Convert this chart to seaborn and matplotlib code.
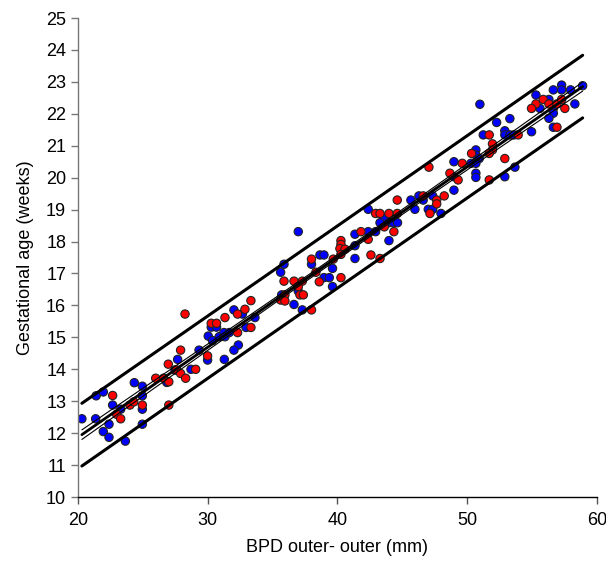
import numpy as np
import pandas as pd
import matplotlib
matplotlib.use("Agg")
import matplotlib.pyplot as plt
import seaborn as sns

# BPD outer-outer (mm) and gestational age (weeks)
blue_bpd = [20.3, 21.4, 21.95, 21.36, 22.67, 21.95, 22.39, 22.39, 23.29, 23.65,
            24.34, 24.96, 24.96, 24.96, 24.96, 26.84,
            32.02, 32.67, 33.64, 30.27, 30.68, 30.04, 30.37, 30.88, 31.25, 31.33,
            31.66, 32.95, 32.36, 32.02, 29.33, 29.99, 31.28, 27.68, 27.48, 28.71,
            36.98, 41.35, 41.35, 41.35, 38.65, 38.96, 38.0, 35.88, 35.62, 39.62,
            38.96, 39.37, 36.98, 39.62, 35.7, 36.65, 37.29,
            45.66, 46.28, 46.61, 47.34, 45.97, 47.0, 47.34, 47.98, 42.37, 43.61,
            43.97, 44.3, 44.63, 43.28, 42.37, 42.94, 43.97,
            50.98, 52.27, 53.29, 51.24, 52.9, 52.9, 53.29, 53.6, 50.67, 50.67,
            50.93, 48.98, 50.29, 50.67, 48.98, 50.67, 50.67, 53.68, 52.9, 48.98,
            58.9, 57.28, 57.28, 56.64, 57.97, 55.3, 56.3, 55.61, 56.64, 56.64,
            58.3, 56.3, 56.64, 54.96]
blue_ga = [12.45, 13.17, 13.29, 12.45, 12.88, 12.05, 11.87, 12.28, 12.75, 11.75,
           13.58, 13.47, 13.17, 12.75, 12.28, 13.59,
           15.86, 15.73, 15.62, 15.32, 15.32, 15.04, 14.9, 15.02, 15.15, 15.02,
           15.15, 15.31, 14.76, 14.6, 14.6, 14.29, 14.31, 14.31, 13.98, 14.0,
           18.31, 18.23, 17.87, 17.47, 17.58, 17.58, 17.29, 17.29, 17.04, 17.16,
           16.87, 16.87, 16.45, 16.59, 16.33, 16.03, 15.86,
           19.3, 19.43, 19.3, 19.43, 19.01, 19.01, 19.01, 18.88, 19.01, 18.73,
           18.59, 18.59, 18.59, 18.59, 18.31, 18.31, 18.03,
           22.3, 21.73, 21.85, 21.34, 21.47, 21.34, 21.34, 21.34, 20.87, 20.71,
           20.6, 20.5, 20.45, 20.45, 20.03, 20.14, 20.01, 20.33, 20.03, 19.61,
           22.88, 22.9, 22.75, 22.75, 22.75, 22.59, 22.45, 22.17, 22.17, 22.02,
           22.31, 21.86, 21.58, 21.44]

red_bpd = [22.67, 22.98, 23.29, 24.0, 24.3, 24.96, 25.99, 26.6, 27.0, 26.96,
           28.25, 33.33, 32.3, 32.87, 31.33, 30.27, 30.68, 32.3, 33.33, 27.91,
           29.99, 27.6, 29.07, 27.91, 28.3, 27.0,
           40.27, 40.27, 40.19, 40.58, 40.27, 39.68, 38.0, 38.34, 40.27, 38.6,
           35.88, 36.65, 37.29, 36.98, 37.11, 35.95, 37.37, 35.62, 35.95, 38.0,
           47.05, 44.61, 46.61, 47.65, 48.23, 47.65, 47.13, 42.94, 43.28, 43.97,
           44.61, 43.61, 42.37, 44.35, 41.81, 42.58, 43.28,
           51.7, 53.93, 51.95, 51.95, 51.7, 50.34, 52.9, 49.62, 48.67, 49.3, 51.7,
           55.3, 55.86, 56.3, 56.92, 57.28, 54.96, 57.53, 56.92]
red_ga = [13.18, 12.59, 12.45, 12.88, 12.98, 12.88, 13.72, 13.72, 12.88, 14.16,
          15.73, 16.15, 15.73, 15.88, 15.62, 15.44, 15.44, 15.15, 15.31, 14.6,
          14.42, 13.98, 14.0, 13.87, 13.72, 13.61,
          18.03, 17.91, 17.78, 17.76, 17.6, 17.45, 17.45, 17.04, 16.87, 16.74,
          16.76, 16.76, 16.76, 16.59, 16.33, 16.33, 16.33, 16.17, 16.14, 15.86,
          20.33, 19.3, 19.43, 19.3, 19.43, 19.18, 18.88, 18.88, 18.88, 18.88,
          18.88, 18.46, 18.07, 18.31, 18.31, 17.58, 17.47,
          21.34, 21.34, 21.06, 20.87, 20.76, 20.76, 20.6, 20.45, 20.14, 19.93, 19.93,
          22.31, 22.45, 22.31, 22.31, 22.45, 22.17, 22.17, 21.58]

df = pd.concat([
    pd.DataFrame({"bpd": blue_bpd, "ga": blue_ga, "group": "blue"}),
    pd.DataFrame({"bpd": red_bpd, "ga": red_ga, "group": "red"}),
], ignore_index=True)

# linear fit with confidence and prediction limits
x = df["bpd"].to_numpy()
y = df["ga"].to_numpy()
n = len(x)
slope, intercept = np.polyfit(x, y, 1)
resid = y - (intercept + slope * x)
s = np.sqrt(np.sum(resid ** 2) / (n - 2))
sxx = np.sum((x - x.mean()) ** 2)
xs = np.linspace(x.min(), x.max(), 200)
fit = intercept + slope * xs
se_mean = s * np.sqrt(1 / n + (xs - x.mean()) ** 2 / sxx)
se_pred = s * np.sqrt(1 + 1 / n + (xs - x.mean()) ** 2 / sxx)
t = 1.97

sns.set_style("ticks")
plt.rcParams["font.family"] = ["Liberation Sans", "DejaVu Sans"]

fig = plt.figure(figsize=(6.06, 5.69), dpi=100)
ax = fig.add_axes([0.1287, 0.1265, 0.8563, 0.8418])

sns.scatterplot(data=df, x="bpd", y="ga", hue="group",
                palette={"blue": "#0000FF", "red": "#FF0000"},
                s=36, edgecolor="#222222", linewidth=0.8, legend=False,
                ax=ax, zorder=2)

ax.plot(xs, fit, color="black", lw=2.0, zorder=3)
ax.plot(xs, fit + t * se_mean, color="black", lw=0.8, zorder=3)
ax.plot(xs, fit - t * se_mean, color="black", lw=0.8, zorder=3)
ax.plot(xs, fit + t * se_pred, color="black", lw=2.2, zorder=3)
ax.plot(xs, fit - t * se_pred, color="black", lw=2.2, zorder=3)

ax.set_xlim(20, 60)
ax.set_ylim(10, 25)
ax.set_xticks(range(20, 61, 10))
ax.set_yticks(range(10, 26))
ax.set_xlabel("BPD outer- outer (mm)", fontsize=13, labelpad=7, color="black")
ax.set_ylabel("Gestational age (weeks)", fontsize=13, labelpad=9, color="black")
ax.tick_params(labelsize=13, length=5, width=1, direction="out",
               labelcolor="black")
ax.tick_params(axis="x", pad=6, color="#555555")
ax.tick_params(axis="y", color="#777777")
sns.despine(ax=ax)
ax.spines["left"].set_color("#777777")
ax.spines["bottom"].set_color("black")
ax.spines["left"].set_linewidth(1.0)
ax.spines["bottom"].set_linewidth(1.0)

fig.savefig("out.png", dpi=100)
